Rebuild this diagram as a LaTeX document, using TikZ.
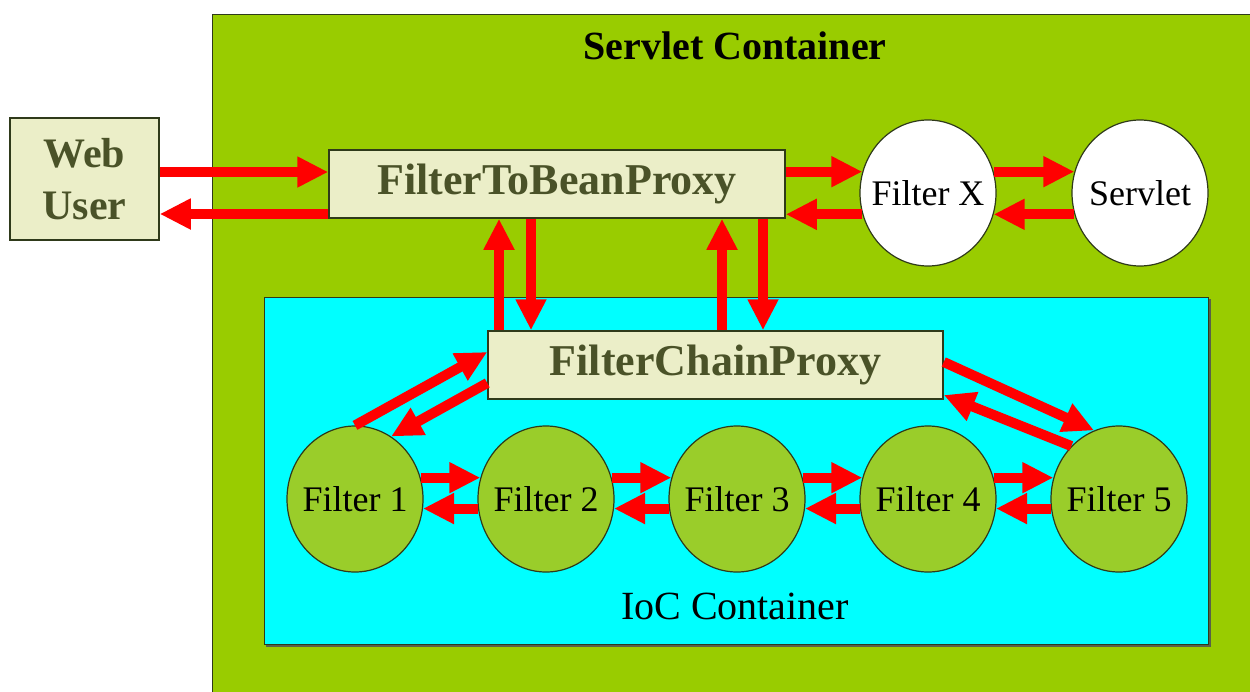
\documentclass[tikz,border=0pt]{standalone}
\usepackage{fontspec}
\setmainfont{Liberation Serif}
\usetikzlibrary{arrows.meta,shapes.geometric}
\definecolor{sgreen}{HTML}{99CC00}
\definecolor{iocc}{HTML}{00FFFF}
\definecolor{fgreen}{HTML}{9ACD2A}
\definecolor{boxfill}{HTML}{EBEEC8}
\definecolor{olivetext}{HTML}{4A5228}
\definecolor{edgec}{HTML}{2F3A1A}
\newcommand\ztext[1]{\makebox[0pt]{#1}}
\begin{document}
\begin{tikzpicture}[x=1pt,y=-1pt,
  arr/.style={draw=red, line width=10pt, -{Triangle[length=31pt,width=29pt]}},
  proxybox/.style={rectangle, draw=edgec, line width=1.5pt, fill=boxfill, text=olivetext,
    font=\fontsize{44}{50}\selectfont\bfseries, inner sep=0pt},
  filt/.style={ellipse, draw=edgec, line width=1.2pt, fill=fgreen, minimum width=136pt,
    minimum height=146pt, inner sep=0pt, font=\fontsize{36}{40}\selectfont},
  wcirc/.style={filt, fill=white},
  title/.style={inner sep=0pt, font=\fontsize{40}{44}\selectfont}
]
\useasboundingbox (0,0) rectangle (1250,691);
% servlet container
\fill[sgreen] (212,14) rectangle (1262,702);
\draw[edgec, line width=1pt] (212,702) -- (212,14) -- (1262,14);
\node[title, font=\fontsize{40}{44}\selectfont\bfseries] (sct) at (735,46) {Servlet Container};
% IoC container
\fill[edgec!80] (266,299) rectangle (1211,647);
\draw[edgec, line width=1pt, fill=iocc] (264,297) rectangle (1208,644);
\node[title] (ict) at (735,606) {IoC Container};
% boxes
\node[proxybox, minimum width=149pt, minimum height=122pt, align=center,
  font=\fontsize{42}{52}\selectfont\bfseries] (web) at (84.5,179) {Web\\User};
\node[proxybox, minimum width=456pt, minimum height=68pt] (ftbp) at (557,184) {FilterToBeanProxy};
\node[proxybox, minimum width=455pt, minimum height=68pt] (fcp) at (715.5,365) {FilterChainProxy};
\node[wcirc] (fx) at (928,193) {\ztext{Filter X}};
\node[wcirc] (sv) at (1140,193) {\ztext{Servlet}};
\node[filt] (f1) at (355,499) {\ztext{Filter 1}};
\node[filt] (f2) at (546,499) {\ztext{Filter 2}};
\node[filt] (f3) at (737,499) {\ztext{Filter 3}};
\node[filt] (f4) at (928,499) {\ztext{Filter 4}};
\node[filt] (f5) at (1119,499) {\ztext{Filter 5}};
% rows and columns
\coordinate (r1) at (0,172);
\coordinate (r2) at (0,214);
\coordinate (c1) at (499,0);
\coordinate (c2) at (531,0);
\coordinate (c3) at (722,0);
\coordinate (c4) at (763,0);
% arrows web <-> ftbp
\draw[arr] (web.east |- r1) -- (ftbp.west |- r1);
\draw[arr] (ftbp.west |- r2) -- (web.east |- r2);
% ftbp <-> filter x <-> servlet
\draw[arr] (ftbp.east |- fx.162) -- (fx.162);
\draw[arr] (fx.198) -- (ftbp.east |- fx.198);
\draw[arr] (fx.18) -- (sv.162);
\draw[arr] (sv.198) -- (fx.-18);
% ftbp <-> fcp
\draw[arr] (c1 |- fcp.north) -- (c1 |- ftbp.south);
\draw[arr] (c2 |- ftbp.south) -- (c2 |- fcp.north);
\draw[arr] (c3 |- fcp.north) -- (c3 |- ftbp.south);
\draw[arr] (c4 |- ftbp.south) -- (c4 |- fcp.north);
% fcp <-> filters 1 and 5
\draw[arr] (f1.north) -- ([yshift=13pt]fcp.west);
\draw[arr] ([yshift=-18pt]fcp.west) -- (f1.60);
\draw[arr] ([yshift=3pt]fcp.east) -- (f5.110);
\draw[arr] (f5.132) -- ([yshift=-30pt]fcp.east);
% filter chain
\foreach \a/\b in {f1/f2,f2/f3,f3/f4,f4/f5}{
  \draw[arr] (\a.18) -- (\b.162);
  \draw[arr] (\b.188) -- (\a.-8);
}
\end{tikzpicture}
\end{document}
